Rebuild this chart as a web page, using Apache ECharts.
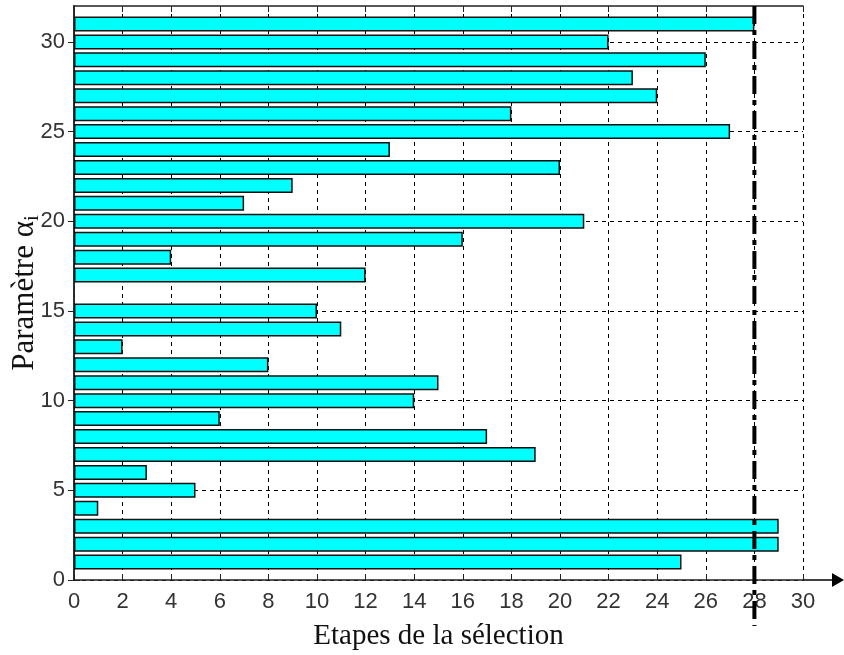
<!DOCTYPE html>
<html>
<head>
<meta charset="utf-8">
<script src="https://cdn.jsdelivr.net/npm/echarts@6/dist/echarts.min.js"></script>
<style>html,body{margin:0;padding:0;background:#fff}#c{width:844px;height:655px}</style>
</head>
<body>
<div id="c"></div>
<script>
// y positions (parameter index), 0..32
const categories = ['0','1','2','3','4','5','6','7','8','9','10','11','12','13','14','15','16','17','18','19','20','21','22','23','24','25','26','27','28','29','30','31','32'];
// selection step for each parameter (null = not selected)
const steps = [null,25,29,29,1,5,3,19,17,6,14,15,8,2,11,10,null,12,4,16,21,7,9,20,13,27,18,24,23,26,22,28,null];
const xMin = 0, xMax = 30, xInterval = 2;
const threshold = 28;
const xTitle = 'Etapes de la sélection';
const yTitle = 'Paramètre α{sub|i}';

const GL = 74, GR = 41, GT = 6, GB = 75;
const chart = echarts.init(document.getElementById('c'), null, {renderer: 'canvas'});
const labelFont = {fontFamily: 'Liberation Sans', fontSize: 22, color: '#333'};
const dash = {color: '#000', width: 1, type: [4, 4]};
const option = {
  animation: false,
  backgroundColor: '#fff',
  grid: {left: GL, right: GR, top: GT, bottom: GB, containLabel: false, outerBoundsMode: 'none'},
  xAxis: [{
    type: 'value', min: xMin, max: xMax, interval: xInterval, position: 'bottom',
    axisLine: {show: true, lineStyle: {color: '#222', width: 1.5}},
    axisTick: {show: true, inside: true, length: 6, lineStyle: {color: '#222'}},
    axisLabel: Object.assign({margin: 11}, labelFont),
    splitLine: {show: true, lineStyle: dash},
    name: xTitle, nameLocation: 'middle', nameGap: 42,
    nameTextStyle: {fontFamily: 'Liberation Serif', fontSize: 29, color: '#111', verticalAlign: 'top'}
  }, {
    type: 'value', min: xMin, max: xMax, interval: xInterval, position: 'top',
    axisLine: {show: true, lineStyle: {color: '#222', width: 1.5}},
    axisTick: {show: true, inside: true, length: 6, lineStyle: {color: '#222'}},
    axisLabel: {show: false}, splitLine: {show: false}
  }],
  yAxis: [{
    type: 'category', data: categories, boundaryGap: false, position: 'left',
    axisLine: {show: true, lineStyle: {color: '#222', width: 1.5}},
    axisTick: {show: true, inside: true, length: 6, interval: 4, lineStyle: {color: '#222'}},
    axisLabel: Object.assign({margin: 9, interval: 4}, labelFont),
    splitLine: {show: true, interval: 4, lineStyle: dash},
    name: yTitle, nameLocation: 'middle', nameGap: 34, nameRotate: 90, nameMoveOverlap: false,
    nameTextStyle: {fontFamily: 'Liberation Serif', fontSize: 31, color: '#111', lineHeight: 30,
      rich: {sub: {fontFamily: 'Liberation Serif', fontSize: 21, lineHeight: 30, padding: [15, 0, 0, 0], color: '#111'}}}
  }, {
    type: 'category', data: categories, boundaryGap: false, position: 'right',
    axisLine: {show: true, lineStyle: {color: '#222', width: 1.5}},
    axisTick: {show: true, inside: true, length: 6, interval: 4, lineStyle: {color: '#222'}},
    axisLabel: {show: false}, splitLine: {show: false}
  }],
  series: [{
    type: 'bar', xAxisIndex: 0, yAxisIndex: 0, data: steps, barWidth: 15,
    itemStyle: {color: '#00ffff', borderColor: '#111', borderWidth: 1.5},
    z: 3
  }]
};
chart.setOption(option);

const xT = chart.convertToPixel({xAxisIndex: 0}, threshold);
const xEnd = chart.convertToPixel({xAxisIndex: 0}, xMax);
const yBase = 655 - GB;
chart.setOption({
  graphic: [
    {type: 'line', z: 100, shape: {x1: xT, y1: GT, x2: xT, y2: yBase + 46},
     style: {stroke: '#000', lineWidth: 4, lineDash: [18, 6, 5, 6]}},
    {type: 'line', z: 100, shape: {x1: xEnd, y1: yBase, x2: 836, y2: yBase},
     style: {stroke: '#000', lineWidth: 1.5}},
    {type: 'polygon', z: 100, shape: {points: [[832, yBase - 7], [844, yBase], [832, yBase + 7]]},
     style: {fill: '#000'}}
  ]
});
</script>
</body>
</html>
